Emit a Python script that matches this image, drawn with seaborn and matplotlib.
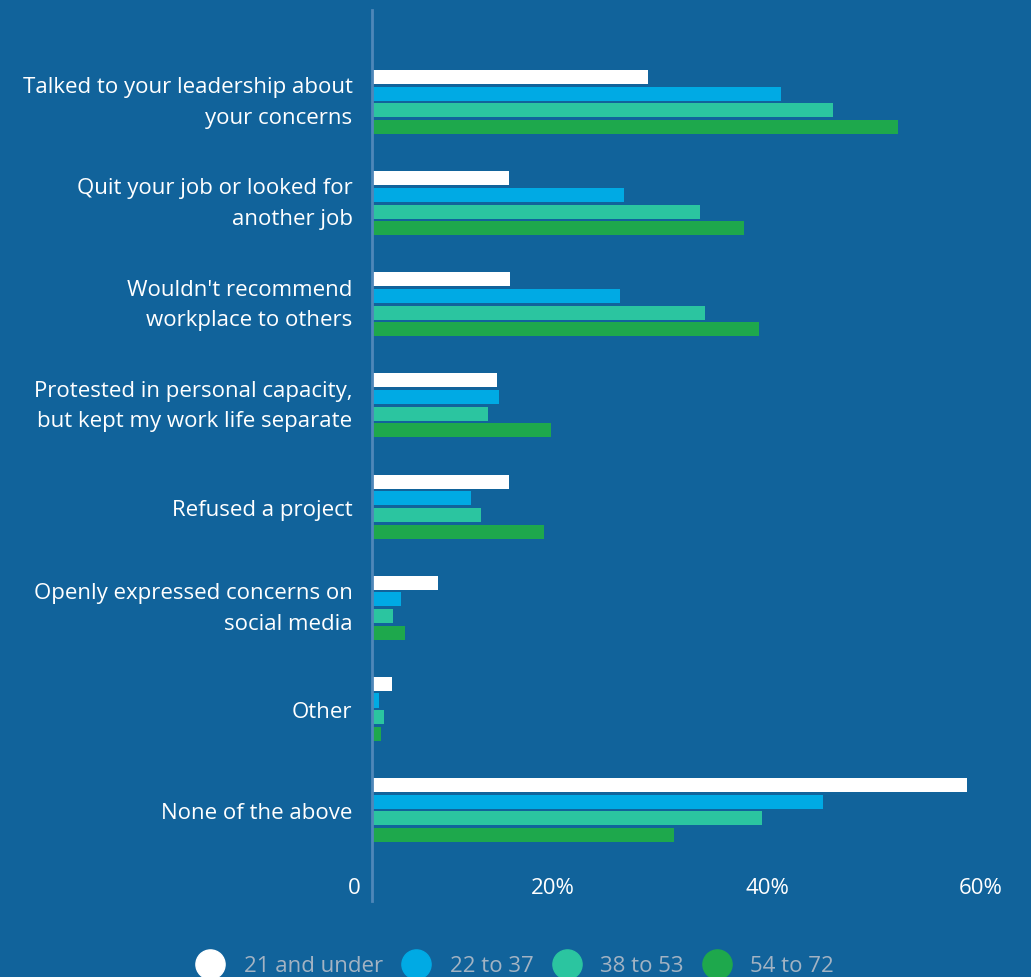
import pandas as pd
import matplotlib.pyplot as plt
import matplotlib.transforms as mtransforms
from matplotlib.lines import Line2D
import seaborn as sns

# Kategoriler ve yas gruplari
actions = [
    "Talked to your leadership about\nyour concerns",
    "Quit your job or looked for\nanother job",
    "Wouldn't recommend\nworkplace to others",
    "Protested in personal capacity,\nbut kept my work life separate",
    "Refused a project",
    "Openly expressed concerns on\nsocial media",
    "Other",
    "None of the above",
]
groups = ["21 and under", "22 to 37", "38 to 53", "54 to 72"]

# Yuzde degerler
under_21 = [25.8, 12.8, 12.9, 11.7, 12.8, 6.2, 1.9, 55.6]
age_22_37 = [38.2, 23.6, 23.2, 11.9, 9.3, 2.7, 0.65, 42.2]
age_38_53 = [43.1, 30.7, 31.1, 10.8, 10.2, 2.0, 1.1, 36.5]
age_54_72 = [49.2, 34.8, 36.2, 16.7, 16.1, 3.1, 0.8, 28.2]

colors = ["#ffffff", "#00aae4", "#2bc5a0", "#1ea84c"]
bg = "#11639b"

rows = []
for g, vals in zip(groups, [under_21, age_22_37, age_38_53, age_54_72]):
    for a, v in zip(actions, vals):
        rows.append({"Aksiyon": a, "Grup": g, "Yuzde": v})
df = pd.DataFrame(rows)

sns.set_style("white")
plt.rcParams["font.family"] = ["Open Sans", "DejaVu Sans"]

fig = plt.figure(figsize=(10.31, 9.78), dpi=100, facecolor=bg)
ax = fig.add_axes([372 / 1031, 1 - 902 / 978, 1 - 372 / 1031, 891 / 978])
ax.set_facecolor(bg)

sns.barplot(data=df, y="Aksiyon", x="Yuzde", hue="Grup", hue_order=groups,
            order=actions, palette=colors, orient="h", width=0.66, gap=0.16,
            legend=False, ax=ax, saturation=1, linewidth=0)

ax.set_xlim(0, 61.6)
ax.set_ylim(7.90, -0.91)
ax.set_xlabel("")
ax.set_ylabel("")

for s in ["top", "right", "bottom"]:
    ax.spines[s].set_visible(False)
ax.spines["left"].set_color("#4f87b9")
ax.spines["left"].set_linewidth(2)

ax.set_xticks([0, 20, 40, 60])
ax.set_xticklabels(["0", "20%", "40%", "60%"])
ax.tick_params(axis="x", length=0, pad=-17, labelsize=16, labelcolor="white")
ax.tick_params(axis="y", length=0, pad=14, labelsize=16, labelcolor="white")
shift = mtransforms.ScaledTranslation(-11 / 100, 0, fig.dpi_scale_trans)
for lab in ax.get_xticklabels():
    lab.set_ha("right")
    lab.set_transform(lab.get_transform() + shift)
for lab in ax.get_yticklabels():
    lab.set_linespacing(1.6)
    if "\n" in lab.get_text():
        lab.set_va("center")

# Lejant
handles = [Line2D([0], [0], marker="o", linestyle="", markersize=21,
                  markerfacecolor=c, markeredgecolor=c) for c in colors]
fig.legend(handles, groups, loc="center", bbox_to_anchor=(0.5, 1 - 967 / 978),
           ncol=4, frameon=False, fontsize=16, labelcolor="#a3b3c3",
           handletextpad=0.9, columnspacing=0.9, handlelength=1.2)

plt.savefig("out.png", dpi=100, facecolor=bg)
